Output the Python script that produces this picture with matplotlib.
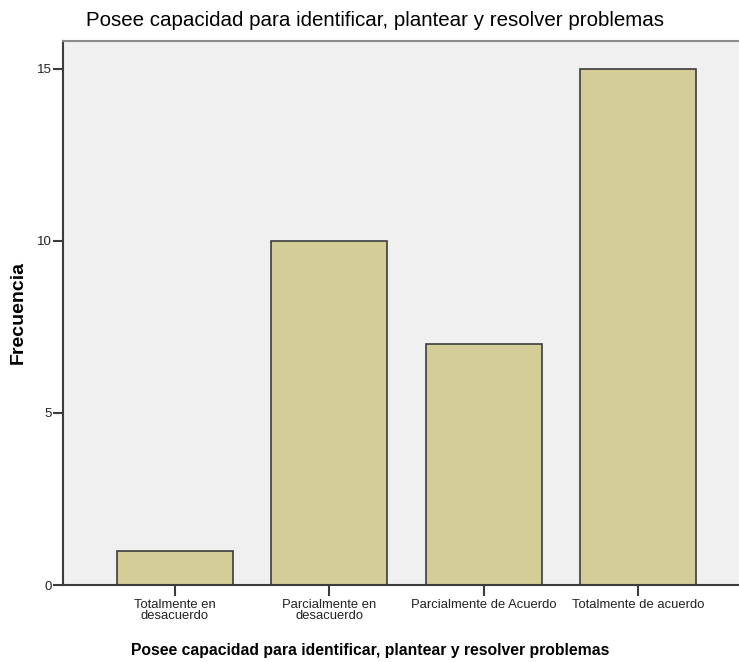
import numpy as np
import matplotlib.pyplot as plt

# datos de la gráfica
categorias = ['Totalmente en\ndesacuerdo', 'Parcialmente en\ndesacuerdo',
              'Parcialmente de Acuerdo', 'Totalmente de acuerdo']
frecuencias = [1, 10, 7, 15]
yticks = [0, 5, 10, 15]
titulo = 'Posee capacidad para identificar, plantear y resolver problemas'

plt.rcParams['font.family'] = ['Liberation Sans', 'DejaVu Sans']

fig = plt.figure(figsize=(7.39, 6.62), dpi=100)
ax = fig.add_axes([63 / 739, 77 / 662, 1 - 63 / 739, 544 / 662])
ax.set_facecolor('#F0F0F0')

x = np.arange(len(categorias))
ax.bar(x, frecuencias, width=0.75, color='#D3CE97', edgecolor='#3C3C3C', linewidth=1.2, zorder=2)

ax.set_xlim(-0.725, 3.654)
ax.set_ylim(0, 15.8)
ax.set_yticks(yticks)
ax.set_xticks(x)
ax.set_xticklabels(categorias, fontsize=9.4, linespacing=0.85)
ax.tick_params(axis='y', length=7, width=1.5, color='#3C3C3C', labelsize=9.5, pad=1, labelcolor='#222222')
ax.tick_params(axis='x', length=8, width=1.5, color='#3C3C3C', pad=2, labelcolor='#222222')

for s in ['left', 'bottom']:
    ax.spines[s].set_color('#3C3C3C')
    ax.spines[s].set_linewidth(1.5)
ax.spines['top'].set_color('#8C8C8C')
ax.spines['top'].set_linewidth(1.5)
ax.spines['right'].set_visible(False)

fig.text(375 / 739, 1 - 21 / 662, titulo, ha='center', va='center', fontsize=14.8)
fig.text(370 / 739, 1 - 651 / 662, titulo, ha='center', va='center', fontsize=11.3, fontweight='bold')
fig.text(18 / 739, 1 - 312 / 662, 'Frecuencia', ha='center', va='center', rotation=90,
         fontsize=14, fontweight='bold')

fig.savefig('out.png', dpi=100)
